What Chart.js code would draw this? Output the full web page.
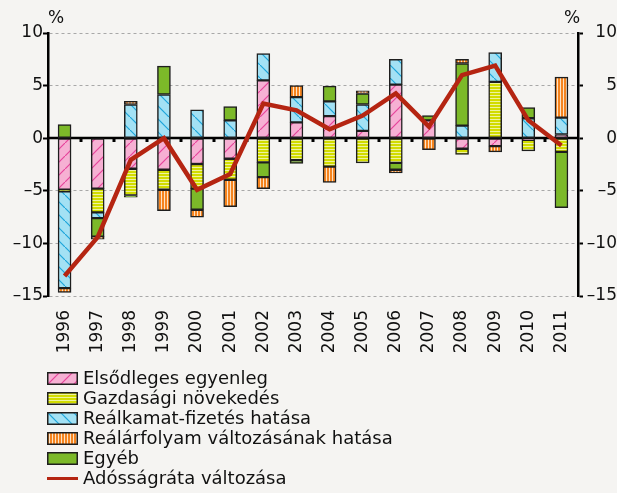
<!DOCTYPE html>
<html><head><meta charset="utf-8">
<script src="https://cdn.jsdelivr.net/npm/chart.js@4"></script>
<style>
html,body{margin:0;padding:0;background:#f5f4f2;}
#wrap{position:relative;width:617px;height:493px;background:#f5f4f2;font-family:"DejaVu Sans", sans-serif;overflow:hidden;}
#c{position:absolute;left:0;top:0;}
.pct{position:absolute;top:7px;font-size:17px;color:#111;line-height:20px;}
#legend{position:absolute;left:47px;top:368px;}
.item{height:20px;display:flex;align-items:center;font-size:18px;color:#111;white-space:nowrap;line-height:20px;}
.item canvas{margin-right:5px;display:block;}
</style></head><body>
<div id="wrap"><canvas id="c" width="617" height="493"></canvas>
<div class="pct" style="left:48px">%</div><div class="pct" style="left:564px">%</div>
<div id="legend"></div></div>
<script>
const years = ['1996','1997','1998','1999','2000','2001','2002','2003','2004','2005','2006','2007','2008','2009','2010','2011'];
const primaryBalance = [-4.9,-4.8,-2.9,-3.0,-2.45,-1.95,5.5,1.5,2.1,0.7,5.1,1.7,-1.0,-0.75,-0.15,0.35];
const growth        = [-0.15,-2.25,-2.55,-1.9,-2.35,-2.0,-2.3,-2.1,-2.7,-2.35,-2.35,null,-0.55,5.35,-1.05,-1.3];
const realInterest  = [-9.2,-0.55,3.2,4.15,2.7,1.7,2.55,2.4,1.4,2.5,2.4,null,1.2,2.8,1.9,1.6];
const other         = [1.3,-1.75,-0.15,2.7,-2.0,1.3,-1.4,-0.3,1.45,1.05,-0.65,0.45,5.9,null,1.0,-5.3];
const exchangeRate  = [-0.4,-0.25,0.3,-2.0,-0.7,-2.55,-1.1,1.1,-1.5,0.25,-0.3,-1.1,0.4,-0.55,null,3.85];
const debtChange    = [-13.1,-9.4,-2.05,0.0,-4.9,-3.4,3.3,2.65,0.85,2.15,4.25,1.1,6.0,6.9,1.7,-0.7];
const yTicks = [-15,-10,-5,0,5,10];

const FONT = '"DejaVu Sans", sans-serif';
const fmt = v => (v < 0 ? '\u2013' + Math.abs(v) : String(v));

const greenCol = '#7cb929';
const lineCol = '#b52512';
const barBorder = '#1e1e1e';

function makePattern(g, kind) {
  const t = document.createElement('canvas');
  const c = t.getContext('2d');
  if (kind === 'pink' || kind === 'blue') {
    const s = 13; t.width = s; t.height = s;
    c.fillStyle = kind === 'pink' ? '#f6b0d3' : '#a3e1f4'; c.fillRect(0, 0, s, s);
    c.strokeStyle = kind === 'pink' ? '#e6449b' : '#1da5da'; c.lineWidth = 1.2;
    c.beginPath();
    if (kind === 'pink') { c.moveTo(-1, s + 1); c.lineTo(s + 1, -1); } else { c.moveTo(-1, -1); c.lineTo(s + 1, s + 1); }
    c.stroke();
  } else if (kind === 'yellow') {
    t.width = 4; t.height = 3;
    c.fillStyle = '#d2dc00'; c.fillRect(0, 0, 4, 3);
    c.fillStyle = '#eef3a0'; c.fillRect(0, 2, 4, 1);
  } else if (kind === 'orange') {
    t.width = 3; t.height = 4;
    c.fillStyle = '#f5841f'; c.fillRect(0, 0, 3, 4);
    c.fillStyle = '#fde2c4'; c.fillRect(2, 0, 1, 4);
  } else {
    return greenCol;
  }
  return g.createPattern(t, 'repeat');
}

const mainCtx = document.getElementById('c').getContext('2d');

const series = [
  {label:'Elsődleges egyenleg', data: primaryBalance, kind:'pink'},
  {label:'Gazdasági növekedés', data: growth, kind:'yellow'},
  {label:'Reálkamat-fizetés hatása', data: realInterest, kind:'blue'},
  {label:'Egyéb', data: other, kind:'green'},
  {label:'Reálárfolyam változásának hatása', data: exchangeRate, kind:'orange'}
];

const zeroPlugin = {
  id: 'zeroLine',
  beforeDatasetsDraw(chart) {
    const {ctx, chartArea: a, scales: {x, y}} = chart;
    const y0 = Math.round(y.getPixelForValue(0));
    ctx.save();
    ctx.fillStyle = '#000';
    for (let i = 0; i < years.length - 1; i++) {
      const xm = (x.getPixelForValue(i) + x.getPixelForValue(i + 1)) / 2;
      ctx.fillRect(Math.round(xm) - 1.5, y0, 3, 4);
    }
    ctx.strokeStyle = '#000';
    ctx.lineWidth = 2.5;
    ctx.beginPath(); ctx.moveTo(a.left, y0); ctx.lineTo(a.right, y0); ctx.stroke();
    ctx.restore();
  }
};

const datasets = [
  {type:'line', label:'Adósságráta változása', data: debtChange, borderColor: lineCol, backgroundColor: lineCol,
   borderWidth: 4.5, pointRadius: 0, tension: 0, order: 0, stack: 'line', yAxisID: 'y', borderJoinStyle: 'miter'}
].concat(series.map(s => ({
  type:'bar', label: s.label, data: s.data, backgroundColor: makePattern(mainCtx, s.kind), borderColor: barBorder,
  borderWidth: 1.5, borderSkipped: false, barThickness: 13, order: 1, stack: 'bars', yAxisID: 'y'
})));

const tickFont = {family: FONT, size: 17};
const yCommon = {
  min: -15, max: 10,
  afterBuildTicks(s) { s.ticks = yTicks.map(v => ({value: v})); },
  ticks: {callback: v => fmt(v), color: '#111', font: tickFont, padding: 0},
};

new Chart(document.getElementById('c'), {
  data: {labels: years, datasets},
  options: {
    responsive: false, animation: false,
    layout: {padding: {top: 33, left: 0, right: 0, bottom: 0}},
    plugins: {legend: {display: false}, tooltip: {enabled: false}},
    scales: {
      x: {stacked: true, grid: {display: false}, border: {display: false},
          ticks: {minRotation: 90, maxRotation: 90, padding: 6, color: '#111', font: tickFont},
          afterFit(s) { s.height = 197; }},
      y: Object.assign({}, yCommon, {stacked: true, position: 'left',
          grid: {color: c => (c.tick && c.tick.value === 0) ? 'rgba(0,0,0,0)' : '#a8a8a8', lineWidth: 1,
                 tickColor: '#000', tickLength: 5, tickWidth: 2},
          border: {display: true, color: '#000', width: 2.5, dash: [3, 3]},
          afterFit(s) { s.width = 48; }}),
      y2: Object.assign({}, yCommon, {position: 'right',
          grid: {drawOnChartArea: false, tickColor: '#000', tickLength: 5, tickWidth: 2},
          border: {display: true, color: '#000', width: 2.5},
          ticks: Object.assign({}, yCommon.ticks, {crossAlign: 'far', padding: 2}),
          afterFit(s) { s.width = 39; }})
    }
  },
  plugins: [zeroPlugin]
});

// HTML legend
const legendOrder = [0, 1, 2, 4, 3];
const leg = document.getElementById('legend');
function addItem(label, draw) {
  const d = document.createElement('div'); d.className = 'item';
  const cv = document.createElement('canvas'); cv.width = 31; cv.height = 13;
  draw(cv.getContext('2d'));
  d.appendChild(cv);
  const sp = document.createElement('span'); sp.textContent = label; d.appendChild(sp);
  leg.appendChild(d);
}
legendOrder.forEach(i => {
  const s = series[i];
  addItem(s.label, g => {
    g.fillStyle = makePattern(g, s.kind);
    g.fillRect(1, 1, 29, 11);
    g.strokeStyle = barBorder; g.lineWidth = 1.5;
    g.strokeRect(0.75, 0.75, 29.5, 11.5);
  });
});
addItem('Adósságráta változása', g => {
  g.fillStyle = lineCol; g.fillRect(0, 5, 31, 3);
});
</script>
</body></html>
